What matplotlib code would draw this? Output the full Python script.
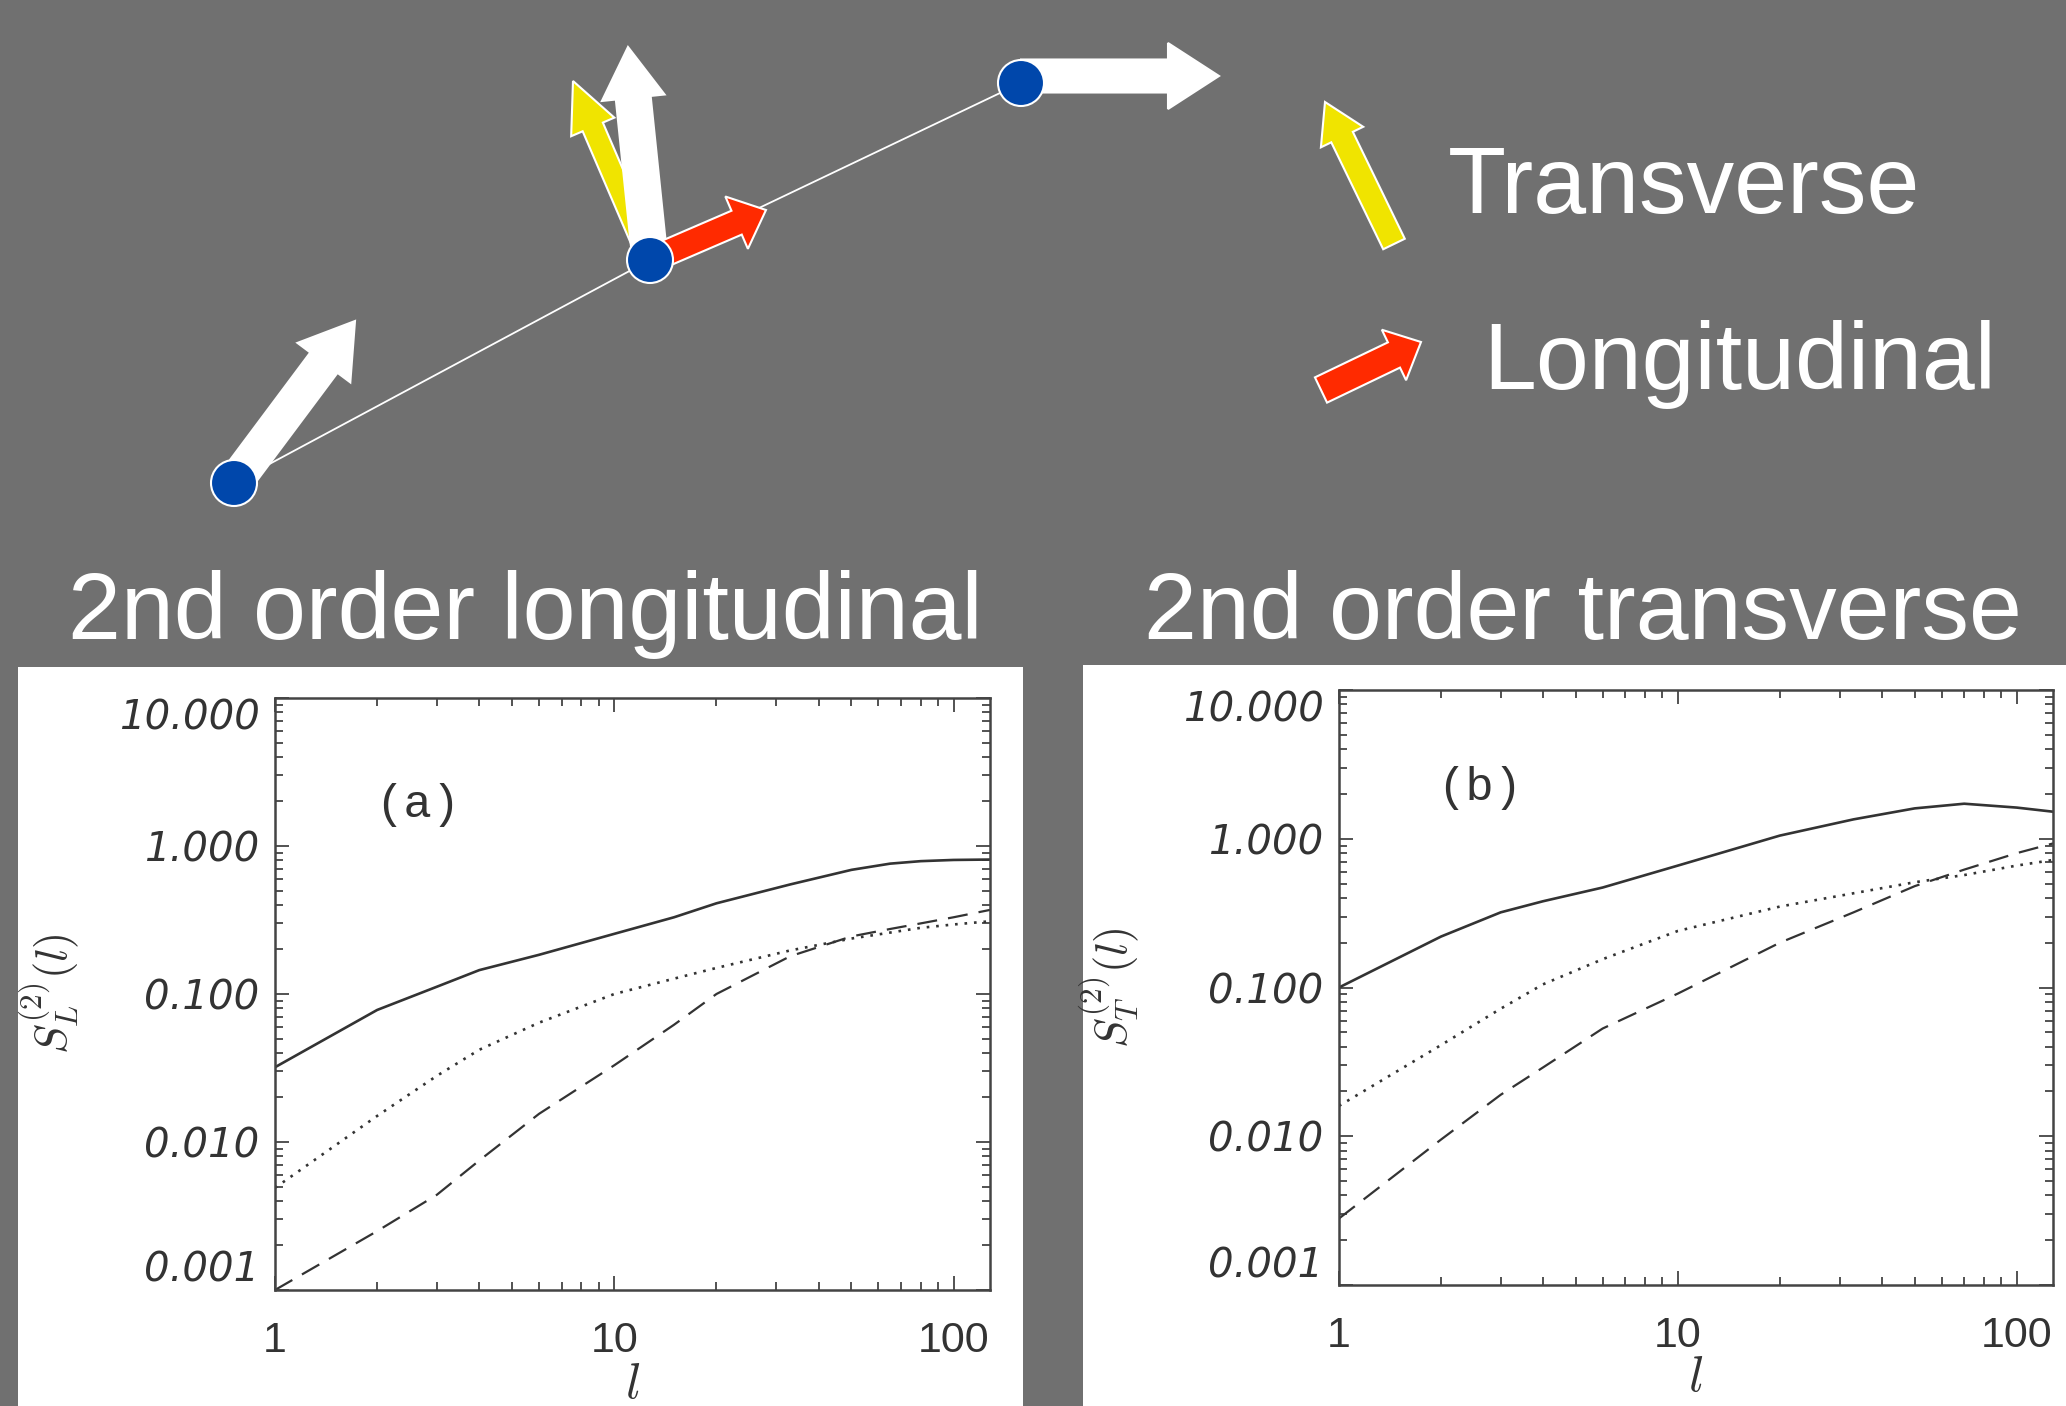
import numpy as np
import matplotlib
matplotlib.use('Agg')
import matplotlib.pyplot as plt
from matplotlib.patches import FancyArrow, Circle, Rectangle
from matplotlib.ticker import LogLocator, NullFormatter

# separation l and 2nd order structure functions, panel (a) longitudinal
l_a = [1, 2, 3, 4, 6, 10, 15, 20, 33, 50, 65, 80, 100, 128]
sl_solid = [0.032, 0.078, 0.112, 0.145, 0.184, 0.255, 0.33, 0.41, 0.55, 0.69, 0.76, 0.79, 0.805, 0.81]
sl_dotted = [0.0049, 0.015, 0.028, 0.042, 0.064, 0.10, 0.127, 0.15, 0.197, 0.237, 0.26, 0.28, 0.295, 0.31]
sl_dashed = [0.001, 0.0025, 0.0044, 0.0075, 0.0155, 0.033, 0.062, 0.10, 0.18, 0.245, 0.275, 0.30, 0.33, 0.37]

# panel (b) transverse
l_b = [1, 2, 3, 4, 6, 10, 20, 33, 50, 70, 100, 128]
st_solid = [0.10, 0.22, 0.32, 0.38, 0.47, 0.66, 1.05, 1.35, 1.60, 1.72, 1.62, 1.52]
st_dotted = [0.016, 0.041, 0.072, 0.105, 0.155, 0.24, 0.35, 0.43, 0.51, 0.57, 0.66, 0.72]
st_dashed = [0.0028, 0.0095, 0.019, 0.029, 0.053, 0.091, 0.20, 0.32, 0.48, 0.62, 0.80, 0.93]

ytick_vals = [0.001, 0.01, 0.1, 1, 10]
ytick_labels = ['0.001', '0.010', '0.100', '1.000', '10.000']
xtick_vals = [1, 10, 100]
xtick_labels = ['1', '10', '100']

W, H = 2066, 1406
BG = '#707070'
INK = '#333333'
BIG = 68.5

fig = plt.figure(figsize=(W / 100, H / 100), dpi=100, facecolor=BG)

# background layer in pixel coordinates
bg = fig.add_axes([0, 0, 1, 1], zorder=0)
bg.set_xlim(0, W)
bg.set_ylim(H, 0)
bg.axis('off')
bg.set_facecolor(BG)

bg.add_patch(Rectangle((18, 667), 1005, 760, fc='white', ec='none', zorder=1))
bg.add_patch(Rectangle((1083, 665), 1000, 760, fc='white', ec='none', zorder=1))

bg.text(68, 639, '2nd order longitudinal', fontsize=BIG, color='white',
        family='Liberation Sans', va='baseline')
bg.text(1144, 639, '2nd order transverse', fontsize=BIG, color='white',
        family='Liberation Sans', va='baseline')
bg.text(1448, 213, 'Transverse', fontsize=BIG, color='white',
        family='Liberation Sans', va='baseline')
bg.text(1483, 389, 'Longitudinal', fontsize=BIG, color='white',
        family='Liberation Sans', va='baseline')

# the three particles and their velocities
bg.plot([234, 650, 1021], [483, 260, 83], color='white', lw=1.3, zorder=1)


def arrow(tail, tip, width, hw, hl, color, z):
    dx, dy = tip[0] - tail[0], tip[1] - tail[1]
    a = FancyArrow(tail[0], tail[1], dx, dy, width=width, head_width=hw,
                   head_length=hl, length_includes_head=True,
                   fc=color, ec='white', lw=1.5, zorder=z)
    bg.add_patch(a)


YELLOW = '#f0e400'
RED = '#ff2a00'
arrow((234, 483), (355, 321), 34, 66, 52, 'white', 2)
arrow((650, 260), (573, 81), 22, 47, 50, YELLOW, 2)
arrow((650, 260), (628, 47), 35, 63, 51, 'white', 3)
arrow((650, 260), (766, 210), 26, 57, 32, RED, 3)
arrow((1021, 76), (1219, 76), 33, 66, 51, 'white', 2)
arrow((1394, 244), (1325, 102), 24, 47, 39, YELLOW, 2)
arrow((1321, 390), (1421, 342), 28, 56, 30, RED, 2)

for (cx, cy) in [(234, 483), (650, 260), (1021, 83)]:
    bg.add_patch(Circle((cx, cy), 23, fc='#0047ab', ec='white', lw=1.5, zorder=5))

plt.rcParams['mathtext.fontset'] = 'cm'


def panel(rect, l, solid, dotted, dashed, tag, tag_xy, sub, ylab_x, xlab_y):
    ax = fig.add_axes(rect, zorder=2)
    ax.set_facecolor('white')
    ax.plot(l, solid, color=INK, lw=1.9, ls='-')
    ax.plot(l, dotted, color=INK, lw=1.9, ls=(0, (1, 2.6)))
    ax.plot(l, dashed, color=INK, lw=1.6, ls=(0, (9, 5)))
    ax.set_xscale('log')
    ax.set_yscale('log')
    ax.set_xlim(1, 128)
    ax.set_ylim(0.001, 10)
    ax.set_xticks(xtick_vals)
    ax.set_xticklabels(xtick_labels, family='Liberation Sans', fontsize=31, color=INK)
    ax.set_yticks(ytick_vals)
    ax.set_yticklabels(ytick_labels, family='DejaVu Sans', style='italic',
                       fontsize=29, color=INK)
    ylabs = ax.get_yticklabels()
    ylabs[0].set_va('bottom')
    ylabs[-1].set_va('top')
    ax.xaxis.set_minor_locator(LogLocator(base=10, subs=np.arange(2, 10)))
    ax.yaxis.set_minor_locator(LogLocator(base=10, subs=np.arange(2, 10)))
    ax.xaxis.set_minor_formatter(NullFormatter())
    ax.yaxis.set_minor_formatter(NullFormatter())
    ax.tick_params(which='both', direction='in', top=True, right=True,
                   color='#444444', width=1.3)
    ax.tick_params(which='major', length=10)
    ax.tick_params(which='minor', length=5.5)
    ax.tick_params(axis='x', pad=22)
    ax.tick_params(axis='y', pad=11)
    for s in ax.spines.values():
        s.set_color('#444444')
        s.set_linewidth(1.8)
    ax.text(tag_xy[0], tag_xy[1], tag, transform=ax.transAxes, ha='center',
            va='center', family='Liberation Mono', fontsize=34, color=INK)
    ax.set_ylabel(r'$S^{(2)}_{%s}(l)$' % sub, fontsize=32, color=INK)
    ax.yaxis.set_label_coords(ylab_x, 0.5)
    ax.set_xlabel(r'$l$', fontsize=36, color=INK)
    ax.xaxis.set_label_coords(0.5, xlab_y)
    return ax


panel([275 / W, 1 - 1290 / H, 715 / W, 592 / H], l_a, sl_solid, sl_dotted, sl_dashed,
      '(a)', (0.20, 0.82), 'L', -0.272, -0.118)
panel([1339 / W, 1 - 1285 / H, 714 / W, 595 / H], l_b, st_solid, st_dotted, st_dashed,
      '(b)', (0.197, 0.835), 'T', -0.277, -0.115)

fig.savefig('out.png', dpi=100, facecolor=BG)
